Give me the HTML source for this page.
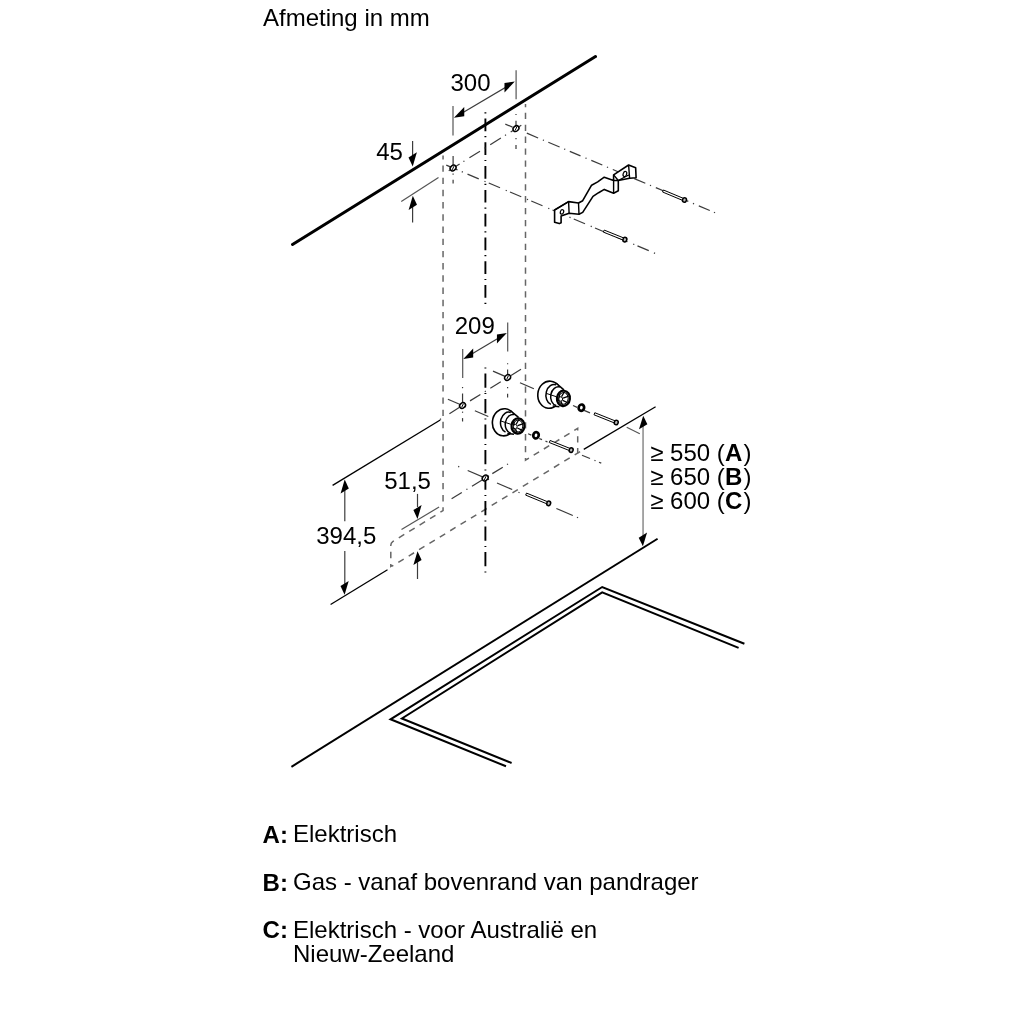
<!DOCTYPE html>
<html><head><meta charset="utf-8"><style>
html,body{margin:0;padding:0;background:#fff;}
svg{display:block;will-change:transform;}
text{font-family:"Liberation Sans",sans-serif;fill:#000;}
</style></head><body>
<svg width="1024" height="1024" viewBox="0 0 1024 1024">
<rect width="1024" height="1024" fill="#fff"/>
<line x1="292.5" y1="244.4" x2="595.5" y2="56.6" stroke="#000" stroke-width="3" stroke-linecap="round"/>
<path d="M443.05,155.6 V510.6 L393,541.4 Q390.8,542.8 390.8,545.3 V566.4 L392.5,565.4" stroke="#666" stroke-width="1.5" fill="none" stroke-linejoin="miter" stroke-linecap="butt" stroke-dasharray="6.4 5.81" stroke-dashoffset="2.38"/>
<path d="M525.5,104 V460.2 L577.7,428.3 V453.3" stroke="#666" stroke-width="1.5" fill="none" stroke-linejoin="miter" stroke-linecap="butt" stroke-dasharray="6.3 5.6" stroke-dashoffset="3.1"/>
<line x1="330.6" y1="604.5" x2="387.5" y2="569.7" stroke="#000" stroke-width="1.3" stroke-linecap="butt"/>
<line x1="392" y1="566.2" x2="583" y2="449.8" stroke="#666" stroke-width="1.5" stroke-linecap="butt" stroke-dasharray="6.3 5.85" stroke-dashoffset="4.75"/>
<line x1="583.75" y1="449.4" x2="655.6" y2="406.75" stroke="#000" stroke-width="1.3" stroke-linecap="butt"/>
<line x1="332.6" y1="485.4" x2="440.25" y2="420" stroke="#000" stroke-width="1.3" stroke-linecap="butt"/>
<line x1="485.4" y1="112.3" x2="485.4" y2="304" stroke="#000" stroke-width="1.9" stroke-linecap="butt" stroke-dasharray="1.2 5 12.7 4.9" stroke-dashoffset="0"/>
<line x1="485.4" y1="367.4" x2="485.4" y2="573.2" stroke="#000" stroke-width="1.9" stroke-linecap="butt" stroke-dasharray="1.2 5 14.2 5.1" stroke-dashoffset="0"/>
<line x1="448.75" y1="170.72" x2="459.6" y2="163.93" stroke="#3a3a3a" stroke-width="1.2" stroke-linecap="butt"/>
<line x1="463.39" y1="161.55" x2="464.41" y2="160.92" stroke="#3a3a3a" stroke-width="1.2" stroke-linecap="butt"/>
<line x1="469.4" y1="157.79" x2="480" y2="151.15" stroke="#3a3a3a" stroke-width="1.2" stroke-linecap="butt"/>
<line x1="484.49" y1="148.34" x2="485.51" y2="147.7" stroke="#3a3a3a" stroke-width="1.2" stroke-linecap="butt"/>
<line x1="490.2" y1="144.76" x2="500.9" y2="138.06" stroke="#3a3a3a" stroke-width="1.2" stroke-linecap="butt"/>
<line x1="504.99" y1="135.5" x2="506.01" y2="134.86" stroke="#3a3a3a" stroke-width="1.2" stroke-linecap="butt"/>
<line x1="510.7" y1="131.92" x2="521.3" y2="125.28" stroke="#3a3a3a" stroke-width="1.2" stroke-linecap="butt"/>
<line x1="505.3" y1="124.08" x2="512.5" y2="127.12" stroke="#3a3a3a" stroke-width="1.2" stroke-linecap="butt"/>
<line x1="526.8" y1="133.16" x2="538.1" y2="137.94" stroke="#3a3a3a" stroke-width="1.2" stroke-linecap="butt"/>
<line x1="542.85" y1="139.94" x2="543.95" y2="140.41" stroke="#3a3a3a" stroke-width="1.2" stroke-linecap="butt"/>
<line x1="548.3" y1="142.25" x2="559.6" y2="147.02" stroke="#3a3a3a" stroke-width="1.2" stroke-linecap="butt"/>
<line x1="564.15" y1="148.94" x2="565.25" y2="149.41" stroke="#3a3a3a" stroke-width="1.2" stroke-linecap="butt"/>
<line x1="569.8" y1="151.33" x2="580.5" y2="155.85" stroke="#3a3a3a" stroke-width="1.2" stroke-linecap="butt"/>
<line x1="585.45" y1="157.94" x2="586.55" y2="158.41" stroke="#3a3a3a" stroke-width="1.2" stroke-linecap="butt"/>
<line x1="591.3" y1="160.41" x2="602.3" y2="165.06" stroke="#3a3a3a" stroke-width="1.2" stroke-linecap="butt"/>
<line x1="606.95" y1="167.03" x2="608.05" y2="167.49" stroke="#3a3a3a" stroke-width="1.2" stroke-linecap="butt"/>
<line x1="612.8" y1="169.5" x2="624" y2="174.23" stroke="#3a3a3a" stroke-width="1.2" stroke-linecap="butt"/>
<line x1="628.45" y1="176.11" x2="629.55" y2="176.58" stroke="#3a3a3a" stroke-width="1.2" stroke-linecap="butt"/>
<line x1="634.3" y1="178.58" x2="645.3" y2="183.23" stroke="#3a3a3a" stroke-width="1.2" stroke-linecap="butt"/>
<line x1="649.95" y1="185.19" x2="651.05" y2="185.66" stroke="#3a3a3a" stroke-width="1.2" stroke-linecap="butt"/>
<line x1="655.8" y1="187.67" x2="666.8" y2="192.31" stroke="#3a3a3a" stroke-width="1.2" stroke-linecap="butt"/>
<line x1="671.45" y1="194.28" x2="672.55" y2="194.74" stroke="#3a3a3a" stroke-width="1.2" stroke-linecap="butt"/>
<line x1="677.3" y1="196.75" x2="688.3" y2="201.4" stroke="#3a3a3a" stroke-width="1.2" stroke-linecap="butt"/>
<line x1="692.95" y1="203.36" x2="694.05" y2="203.83" stroke="#3a3a3a" stroke-width="1.2" stroke-linecap="butt"/>
<line x1="698.8" y1="205.83" x2="709.8" y2="210.48" stroke="#3a3a3a" stroke-width="1.2" stroke-linecap="butt"/>
<line x1="713.95" y1="212.23" x2="715.05" y2="212.7" stroke="#3a3a3a" stroke-width="1.2" stroke-linecap="butt"/>
<line x1="446.25" y1="165.11" x2="457.5" y2="169.86" stroke="#3a3a3a" stroke-width="1.2" stroke-linecap="butt"/>
<line x1="461.75" y1="171.65" x2="462.85" y2="172.12" stroke="#3a3a3a" stroke-width="1.2" stroke-linecap="butt"/>
<line x1="467.5" y1="174.08" x2="478.75" y2="178.84" stroke="#3a3a3a" stroke-width="1.2" stroke-linecap="butt"/>
<line x1="484.45" y1="181.24" x2="485.55" y2="181.71" stroke="#3a3a3a" stroke-width="1.2" stroke-linecap="butt"/>
<line x1="488.75" y1="183.06" x2="500" y2="187.82" stroke="#3a3a3a" stroke-width="1.2" stroke-linecap="butt"/>
<line x1="505.7" y1="190.22" x2="506.8" y2="190.69" stroke="#3a3a3a" stroke-width="1.2" stroke-linecap="butt"/>
<line x1="510" y1="192.04" x2="521.25" y2="196.79" stroke="#3a3a3a" stroke-width="1.2" stroke-linecap="butt"/>
<line x1="526.95" y1="199.2" x2="528.05" y2="199.67" stroke="#3a3a3a" stroke-width="1.2" stroke-linecap="butt"/>
<line x1="531.25" y1="201.02" x2="542.5" y2="205.77" stroke="#3a3a3a" stroke-width="1.2" stroke-linecap="butt"/>
<line x1="548.2" y1="208.18" x2="549.3" y2="208.65" stroke="#3a3a3a" stroke-width="1.2" stroke-linecap="butt"/>
<line x1="552.5" y1="210" x2="563.75" y2="214.75" stroke="#3a3a3a" stroke-width="1.2" stroke-linecap="butt"/>
<line x1="569.45" y1="217.16" x2="570.55" y2="217.62" stroke="#3a3a3a" stroke-width="1.2" stroke-linecap="butt"/>
<line x1="573.75" y1="218.97" x2="585" y2="223.73" stroke="#3a3a3a" stroke-width="1.2" stroke-linecap="butt"/>
<line x1="590.7" y1="226.13" x2="591.8" y2="226.6" stroke="#3a3a3a" stroke-width="1.2" stroke-linecap="butt"/>
<line x1="595" y1="227.95" x2="606.25" y2="232.71" stroke="#3a3a3a" stroke-width="1.2" stroke-linecap="butt"/>
<line x1="611.95" y1="235.11" x2="613.05" y2="235.58" stroke="#3a3a3a" stroke-width="1.2" stroke-linecap="butt"/>
<line x1="616.25" y1="236.93" x2="627.5" y2="241.68" stroke="#3a3a3a" stroke-width="1.2" stroke-linecap="butt"/>
<line x1="633.2" y1="244.09" x2="634.3" y2="244.56" stroke="#3a3a3a" stroke-width="1.2" stroke-linecap="butt"/>
<line x1="637.5" y1="245.91" x2="648.75" y2="250.66" stroke="#3a3a3a" stroke-width="1.2" stroke-linecap="butt"/>
<line x1="653.95" y1="252.86" x2="655.05" y2="253.33" stroke="#3a3a3a" stroke-width="1.2" stroke-linecap="butt"/>
<line x1="439.99" y1="419.49" x2="441.01" y2="418.85" stroke="#3a3a3a" stroke-width="1.2" stroke-linecap="butt"/>
<line x1="449.4" y1="413.65" x2="459.6" y2="407.33" stroke="#3a3a3a" stroke-width="1.2" stroke-linecap="butt"/>
<line x1="470" y1="400.88" x2="480.4" y2="394.43" stroke="#3a3a3a" stroke-width="1.2" stroke-linecap="butt"/>
<line x1="484.79" y1="391.71" x2="485.81" y2="391.08" stroke="#3a3a3a" stroke-width="1.2" stroke-linecap="butt"/>
<line x1="490.3" y1="388.3" x2="500.8" y2="381.79" stroke="#3a3a3a" stroke-width="1.2" stroke-linecap="butt"/>
<line x1="505.29" y1="379" x2="506.31" y2="378.37" stroke="#3a3a3a" stroke-width="1.2" stroke-linecap="butt"/>
<line x1="511" y1="375.46" x2="521" y2="369.26" stroke="#3a3a3a" stroke-width="1.2" stroke-linecap="butt"/>
<line x1="493" y1="371.17" x2="511" y2="378.91" stroke="#3a3a3a" stroke-width="1.2" stroke-linecap="butt"/>
<line x1="520" y1="382.78" x2="533.9" y2="388.76" stroke="#3a3a3a" stroke-width="1.2" stroke-linecap="butt"/>
<line x1="573" y1="405.57" x2="577.1" y2="407.33" stroke="#3a3a3a" stroke-width="1.2" stroke-linecap="butt"/>
<line x1="584.1" y1="410.34" x2="590" y2="412.88" stroke="#3a3a3a" stroke-width="1.2" stroke-linecap="butt"/>
<line x1="447.9" y1="399.2" x2="466" y2="406.98" stroke="#3a3a3a" stroke-width="1.2" stroke-linecap="butt"/>
<line x1="474.9" y1="410.81" x2="488.3" y2="416.57" stroke="#3a3a3a" stroke-width="1.2" stroke-linecap="butt"/>
<line x1="528.1" y1="433.69" x2="531.4" y2="435.11" stroke="#3a3a3a" stroke-width="1.2" stroke-linecap="butt"/>
<line x1="539.2" y1="438.46" x2="542" y2="439.66" stroke="#3a3a3a" stroke-width="1.2" stroke-linecap="butt"/>
<line x1="545.5" y1="441.17" x2="547.5" y2="442.03" stroke="#3a3a3a" stroke-width="1.2" stroke-linecap="butt"/>
<line x1="458.15" y1="466.42" x2="459.25" y2="466.89" stroke="#3a3a3a" stroke-width="1.2" stroke-linecap="butt"/>
<line x1="467.7" y1="470.51" x2="489" y2="479.63" stroke="#3a3a3a" stroke-width="1.2" stroke-linecap="butt"/>
<line x1="497" y1="483.05" x2="512.2" y2="489.56" stroke="#3a3a3a" stroke-width="1.2" stroke-linecap="butt"/>
<line x1="518.45" y1="492.23" x2="519.55" y2="492.7" stroke="#3a3a3a" stroke-width="1.2" stroke-linecap="butt"/>
<line x1="556.4" y1="508.47" x2="572.8" y2="515.49" stroke="#3a3a3a" stroke-width="1.2" stroke-linecap="butt"/>
<line x1="576.95" y1="517.27" x2="578.05" y2="517.74" stroke="#3a3a3a" stroke-width="1.2" stroke-linecap="butt"/>
<line x1="451.6" y1="498.73" x2="461.8" y2="492.44" stroke="#3a3a3a" stroke-width="1.2" stroke-linecap="butt"/>
<line x1="466.39" y1="489.61" x2="467.41" y2="488.98" stroke="#3a3a3a" stroke-width="1.2" stroke-linecap="butt"/>
<line x1="472" y1="486.14" x2="489" y2="475.66" stroke="#3a3a3a" stroke-width="1.2" stroke-linecap="butt"/>
<line x1="492.3" y1="473.62" x2="502.8" y2="467.14" stroke="#3a3a3a" stroke-width="1.2" stroke-linecap="butt"/>
<line x1="506.99" y1="464.56" x2="508.01" y2="463.93" stroke="#3a3a3a" stroke-width="1.2" stroke-linecap="butt"/>
<line x1="582" y1="455.3" x2="590" y2="458.54" stroke="#3a3a3a" stroke-width="1.2" stroke-linecap="butt"/>
<line x1="594.44" y1="460.34" x2="595.56" y2="460.79" stroke="#3a3a3a" stroke-width="1.2" stroke-linecap="butt"/>
<line x1="599" y1="462.19" x2="601.25" y2="463.1" stroke="#3a3a3a" stroke-width="1.2" stroke-linecap="butt"/>
<line x1="453.1" y1="155.9" x2="453.1" y2="168" stroke="#3a3a3a" stroke-width="1.2" stroke-linecap="butt"/>
<line x1="453.1" y1="173.6" x2="453.1" y2="174.8" stroke="#3a3a3a" stroke-width="1.2" stroke-linecap="butt"/>
<line x1="453.1" y1="179.7" x2="453.1" y2="183.6" stroke="#3a3a3a" stroke-width="1.2" stroke-linecap="butt"/>
<line x1="516" y1="113.9" x2="516" y2="115.1" stroke="#3a3a3a" stroke-width="1.2" stroke-linecap="butt"/>
<line x1="516" y1="120.8" x2="516" y2="128" stroke="#3a3a3a" stroke-width="1.2" stroke-linecap="butt"/>
<line x1="516" y1="138" x2="516" y2="139.2" stroke="#3a3a3a" stroke-width="1.2" stroke-linecap="butt"/>
<line x1="516" y1="145" x2="516" y2="148.9" stroke="#3a3a3a" stroke-width="1.2" stroke-linecap="butt"/>
<line x1="507.6" y1="363.15" x2="507.6" y2="364.35" stroke="#3a3a3a" stroke-width="1.2" stroke-linecap="butt"/>
<line x1="507.6" y1="369.4" x2="507.6" y2="377" stroke="#3a3a3a" stroke-width="1.2" stroke-linecap="butt"/>
<line x1="507.6" y1="387" x2="507.6" y2="388.2" stroke="#3a3a3a" stroke-width="1.2" stroke-linecap="butt"/>
<line x1="507.6" y1="393.8" x2="507.6" y2="397.5" stroke="#3a3a3a" stroke-width="1.2" stroke-linecap="butt"/>
<line x1="462.55" y1="387" x2="462.55" y2="388.2" stroke="#3a3a3a" stroke-width="1.2" stroke-linecap="butt"/>
<line x1="462.55" y1="393.5" x2="462.55" y2="405" stroke="#3a3a3a" stroke-width="1.2" stroke-linecap="butt"/>
<line x1="462.55" y1="411.6" x2="462.55" y2="412.8" stroke="#3a3a3a" stroke-width="1.2" stroke-linecap="butt"/>
<line x1="462.55" y1="418.1" x2="462.55" y2="421.5" stroke="#3a3a3a" stroke-width="1.2" stroke-linecap="butt"/>
<ellipse cx="453.1" cy="168" rx="3.2" ry="2.5" transform="rotate(-40 453.1 168)" fill="#fff" stroke="#000" stroke-width="1.5"/>
<line x1="454" y1="166.1" x2="452.2" y2="169.9" stroke="#000" stroke-width="1" stroke-linecap="butt"/>
<ellipse cx="516" cy="128.6" rx="3.2" ry="2.5" transform="rotate(-40 516 128.6)" fill="#fff" stroke="#000" stroke-width="1.5"/>
<line x1="516.9" y1="126.7" x2="515.1" y2="130.5" stroke="#000" stroke-width="1" stroke-linecap="butt"/>
<ellipse cx="507.6" cy="377.45" rx="3.2" ry="2.5" transform="rotate(-40 507.6 377.45)" fill="#fff" stroke="#000" stroke-width="1.5"/>
<line x1="508.5" y1="375.55" x2="506.7" y2="379.35" stroke="#000" stroke-width="1" stroke-linecap="butt"/>
<ellipse cx="462.55" cy="405.5" rx="3.2" ry="2.5" transform="rotate(-40 462.55 405.5)" fill="#fff" stroke="#000" stroke-width="1.5"/>
<line x1="463.45" y1="403.6" x2="461.65" y2="407.4" stroke="#000" stroke-width="1" stroke-linecap="butt"/>
<ellipse cx="485.2" cy="478" rx="3.2" ry="2.5" transform="rotate(-40 485.2 478)" fill="#fff" stroke="#000" stroke-width="1.5"/>
<line x1="486.1" y1="476.1" x2="484.3" y2="479.9" stroke="#000" stroke-width="1" stroke-linecap="butt"/>
<line x1="516.1" y1="70.3" x2="516.1" y2="99.3" stroke="#555" stroke-width="1.2" stroke-linecap="butt"/>
<line x1="453" y1="106" x2="453" y2="135.5" stroke="#555" stroke-width="1.2" stroke-linecap="butt"/>
<line x1="458" y1="115.4" x2="511" y2="84.2" stroke="#3c3c3c" stroke-width="1.2" stroke-linecap="butt"/>
<path d="M453.9,117.7 L464.23,116.3 L464.23,106.9 Z" fill="#000"/>
<path d="M514.8,81.6 L504.48,92.42 L504.48,83.02 Z" fill="#000"/>
<text x="450.5" y="91.2" font-size="24" font-weight="normal" text-anchor="start">300</text>
<text x="376.2" y="159.6" font-size="24" font-weight="normal" text-anchor="start">45</text>
<line x1="412.6" y1="141" x2="412.6" y2="156" stroke="#3c3c3c" stroke-width="1.2" stroke-linecap="butt"/>
<path d="M412.7,166.4 L416.88,152.35 L408.52,157.45 Z" fill="#000"/>
<line x1="412.6" y1="207" x2="412.6" y2="222.5" stroke="#3c3c3c" stroke-width="1.2" stroke-linecap="butt"/>
<path d="M412.8,195.8 L416.98,204.85 L408.62,209.95 Z" fill="#000"/>
<line x1="401.25" y1="201.5" x2="438.5" y2="177.5" stroke="#555" stroke-width="1.2" stroke-linecap="butt"/>
<line x1="507.7" y1="322.5" x2="507.7" y2="351.5" stroke="#555" stroke-width="1.2" stroke-linecap="butt"/>
<line x1="462.7" y1="348.9" x2="462.7" y2="377.9" stroke="#555" stroke-width="1.2" stroke-linecap="butt"/>
<line x1="468" y1="356.2" x2="502" y2="336" stroke="#3c3c3c" stroke-width="1.2" stroke-linecap="butt"/>
<path d="M463.3,359 L473.18,357.62 L473.18,348.62 Z" fill="#000"/>
<path d="M506.8,333.1 L496.92,343.48 L496.92,334.48 Z" fill="#000"/>
<text x="454.7" y="333.5" font-size="24" font-weight="normal" text-anchor="start">209</text>
<text x="384.2" y="489.2" font-size="24" font-weight="normal" text-anchor="start">51,5</text>
<line x1="417.5" y1="493.9" x2="417.5" y2="507" stroke="#3c3c3c" stroke-width="1.2" stroke-linecap="butt"/>
<path d="M417.5,518.9 L421.6,505.1 L413.4,510.1 Z" fill="#000"/>
<line x1="401.5" y1="529.6" x2="439.1" y2="507" stroke="#555" stroke-width="1.2" stroke-linecap="butt"/>
<path d="M417.5,551.2 L421.6,560 L413.4,565 Z" fill="#000"/>
<line x1="417.5" y1="562" x2="417.5" y2="579" stroke="#3c3c3c" stroke-width="1.2" stroke-linecap="butt"/>
<line x1="344.8" y1="490" x2="344.8" y2="521.25" stroke="#3c3c3c" stroke-width="1.2" stroke-linecap="butt"/>
<path d="M344.7,479.6 L348.8,488.4 L340.6,493.4 Z" fill="#000"/>
<text x="316.2" y="544.4" font-size="24" font-weight="normal" text-anchor="start">394,5</text>
<line x1="344.8" y1="551" x2="344.8" y2="585" stroke="#3c3c3c" stroke-width="1.2" stroke-linecap="butt"/>
<path d="M344.6,594.7 L348.7,580.9 L340.5,585.9 Z" fill="#000"/>
<line x1="643.05" y1="424" x2="643.05" y2="537" stroke="#8a8a8a" stroke-width="1.5" stroke-linecap="butt"/>
<path d="M643.2,415.8 L647.38,424.25 L639.02,429.35 Z" fill="#000"/>
<path d="M642.9,546.2 L647.08,532.55 L638.72,537.65 Z" fill="#000"/>
<line x1="626.7" y1="427.2" x2="639.8" y2="433.75" stroke="#555" stroke-width="1.2" stroke-linecap="butt"/>
<text x="650.2" y="461" font-size="24">&#8805; 550 (<tspan font-weight="bold" dx="0.3">A</tspan><tspan dx="1.0">)</tspan></text>
<text x="650.2" y="485.3" font-size="24">&#8805; 650 (<tspan font-weight="bold" dx="0.3">B</tspan><tspan dx="1.0">)</tspan></text>
<text x="650.2" y="508.75" font-size="24">&#8805; 600 (<tspan font-weight="bold" dx="0.3">C</tspan><tspan dx="1.0">)</tspan></text>
<line x1="291.4" y1="766.8" x2="657.6" y2="538.75" stroke="#000" stroke-width="2" stroke-linecap="butt"/>
<path d="M506,766.3 L390.5,719.3 L602.2,587 L744.4,643.7" stroke="#000" stroke-width="2" fill="none" stroke-linejoin="miter" stroke-linecap="butt"/>
<path d="M511.6,763 L401.9,718.5 L602.2,592.3 L738.6,647.9" stroke="#000" stroke-width="2" fill="none" stroke-linejoin="miter" stroke-linecap="butt"/>
<path d="M593.99,414.77 L615.84,423.52 L616.66,421.48 L594.81,412.73 Z" stroke="#000" stroke-width="1" fill="#fff" stroke-linejoin="miter" stroke-linecap="butt"/>
<ellipse cx="616.25" cy="422.5" rx="1.9" ry="2.3" transform="rotate(20 616.25 422.5)" fill="#bbb" stroke="#000" stroke-width="1.5"/>
<path d="M549.29,442.52 L570.79,451.12 L571.61,449.08 L550.11,440.48 Z" stroke="#000" stroke-width="1" fill="#fff" stroke-linejoin="miter" stroke-linecap="butt"/>
<ellipse cx="571.2" cy="450.1" rx="1.9" ry="2.3" transform="rotate(20 571.2 450.1)" fill="#bbb" stroke="#000" stroke-width="1.5"/>
<path d="M525.68,495.12 L548.28,504.42 L549.12,502.38 L526.52,493.08 Z" stroke="#000" stroke-width="1" fill="#fff" stroke-linejoin="miter" stroke-linecap="butt"/>
<ellipse cx="548.7" cy="503.4" rx="1.9" ry="2.3" transform="rotate(20 548.7 503.4)" fill="#bbb" stroke="#000" stroke-width="1.5"/>
<path d="M662.58,192.01 L684.08,201.01 L684.92,198.99 L663.42,189.99 Z" stroke="#000" stroke-width="1" fill="#fff" stroke-linejoin="miter" stroke-linecap="butt"/>
<ellipse cx="684.5" cy="200" rx="1.9" ry="2.3" transform="rotate(20 684.5 200)" fill="#bbb" stroke="#000" stroke-width="1.5"/>
<path d="M603.39,232.12 L624.49,240.62 L625.31,238.58 L604.21,230.08 Z" stroke="#000" stroke-width="1" fill="#fff" stroke-linejoin="miter" stroke-linecap="butt"/>
<ellipse cx="624.9" cy="239.6" rx="1.9" ry="2.3" transform="rotate(20 624.9 239.6)" fill="#bbb" stroke="#000" stroke-width="1.5"/>
<g transform="translate(0 0)">
<ellipse cx="504" cy="422.3" rx="11.6" ry="13.6" transform="rotate(6 504 422.3)" fill="#fff" stroke="#000" stroke-width="1.6"/>
<path d="M510.8,411 L518.5,417.2 L518,434.6 L507.3,433.3 Z" stroke="#000" stroke-width="0" fill="#fff" stroke-linejoin="miter" stroke-linecap="butt"/>
<path d="M510.6,410.8 L518.5,417.4" stroke="#000" stroke-width="1.5" fill="none" stroke-linejoin="miter" stroke-linecap="butt"/>
<path d="M507.3,433.5 L514,434.3" stroke="#000" stroke-width="1.5" fill="none" stroke-linejoin="miter" stroke-linecap="butt"/>
<path d="M510.8,412.5 A7.6 10.2 6 0 0 505.5,432" fill="none" stroke="#000" stroke-width="1.5"/>
<path d="M514.5,414.6 A7.3 9.4 6 0 0 510.8,433.2" fill="none" stroke="#000" stroke-width="1.5"/>
<path d="M500.9,421 L510.9,424.3" stroke="#000" stroke-width="1" fill="none" stroke-linejoin="miter" stroke-linecap="butt"/>
<ellipse cx="518" cy="426" rx="6.5" ry="7.7" transform="rotate(6 518 426)" fill="#fff" stroke="#000" stroke-width="2.2"/>
<ellipse cx="518" cy="426" rx="4.8" ry="5.9" transform="rotate(6 518 426)" fill="none" stroke="#000" stroke-width="1"/>
<line x1="517.68" y1="425.71" x2="523.26" y2="423.67" stroke="#000" stroke-width="1.3" stroke-linecap="butt"/>
<line x1="517.33" y1="427.98" x2="522.29" y2="430.37" stroke="#000" stroke-width="1.3" stroke-linecap="butt"/>
<line x1="515.45" y1="428.77" x2="517.03" y2="432.7" stroke="#000" stroke-width="1.3" stroke-linecap="butt"/>
<line x1="513.92" y1="427.29" x2="512.74" y2="428.33" stroke="#000" stroke-width="1.3" stroke-linecap="butt"/>
<line x1="514.27" y1="425.02" x2="513.71" y2="421.63" stroke="#000" stroke-width="1.3" stroke-linecap="butt"/>
<line x1="516.15" y1="424.23" x2="518.97" y2="419.3" stroke="#000" stroke-width="1.3" stroke-linecap="butt"/>
<ellipse cx="515.3" cy="426.6" rx="1.9" ry="2.2" fill="#fff" stroke="#000" stroke-width="1"/>
</g>
<ellipse cx="536" cy="435.3" rx="2.7" ry="3.2" transform="rotate(15 536 435.3)" fill="#fff" stroke="#000" stroke-width="2.7"/>
<g transform="translate(45.4 -27.6)">
<ellipse cx="504" cy="422.3" rx="11.6" ry="13.6" transform="rotate(6 504 422.3)" fill="#fff" stroke="#000" stroke-width="1.6"/>
<path d="M510.8,411 L518.5,417.2 L518,434.6 L507.3,433.3 Z" stroke="#000" stroke-width="0" fill="#fff" stroke-linejoin="miter" stroke-linecap="butt"/>
<path d="M510.6,410.8 L518.5,417.4" stroke="#000" stroke-width="1.5" fill="none" stroke-linejoin="miter" stroke-linecap="butt"/>
<path d="M507.3,433.5 L514,434.3" stroke="#000" stroke-width="1.5" fill="none" stroke-linejoin="miter" stroke-linecap="butt"/>
<path d="M510.8,412.5 A7.6 10.2 6 0 0 505.5,432" fill="none" stroke="#000" stroke-width="1.5"/>
<path d="M514.5,414.6 A7.3 9.4 6 0 0 510.8,433.2" fill="none" stroke="#000" stroke-width="1.5"/>
<path d="M500.9,421 L510.9,424.3" stroke="#000" stroke-width="1" fill="none" stroke-linejoin="miter" stroke-linecap="butt"/>
<ellipse cx="518" cy="426" rx="6.5" ry="7.7" transform="rotate(6 518 426)" fill="#fff" stroke="#000" stroke-width="2.2"/>
<ellipse cx="518" cy="426" rx="4.8" ry="5.9" transform="rotate(6 518 426)" fill="none" stroke="#000" stroke-width="1"/>
<line x1="517.68" y1="425.71" x2="523.26" y2="423.67" stroke="#000" stroke-width="1.3" stroke-linecap="butt"/>
<line x1="517.33" y1="427.98" x2="522.29" y2="430.37" stroke="#000" stroke-width="1.3" stroke-linecap="butt"/>
<line x1="515.45" y1="428.77" x2="517.03" y2="432.7" stroke="#000" stroke-width="1.3" stroke-linecap="butt"/>
<line x1="513.92" y1="427.29" x2="512.74" y2="428.33" stroke="#000" stroke-width="1.3" stroke-linecap="butt"/>
<line x1="514.27" y1="425.02" x2="513.71" y2="421.63" stroke="#000" stroke-width="1.3" stroke-linecap="butt"/>
<line x1="516.15" y1="424.23" x2="518.97" y2="419.3" stroke="#000" stroke-width="1.3" stroke-linecap="butt"/>
<ellipse cx="515.3" cy="426.6" rx="1.9" ry="2.2" fill="#fff" stroke="#000" stroke-width="1"/>
</g>
<ellipse cx="581.4" cy="407.7" rx="2.7" ry="3.2" transform="rotate(15 581.4 407.7)" fill="#fff" stroke="#000" stroke-width="2.7"/>
<path d="M554.6,210 L554.6,222.2 L559.25,223.6 L561.1,222.7 L561.1,216.1 L569.1,213.3 L579,214.25 L582.7,212.4 L593,196.4 L598.6,192.7 L604.25,189.4 L613.6,193.2 L618.3,190.8 L618.3,180.5 L629.6,178.2 L636.1,177.7 L635.65,167.8 L628.6,165 L613.6,174.9 L613.6,180.5 L604.25,177.2 L597.7,181.9 L591.6,185.2 L582.7,200.7 L578.5,203 L568.6,201.6 Z" stroke="#000" stroke-width="1.6" fill="#fff" stroke-linejoin="round" stroke-linecap="butt"/>
<path d="M613.6,180.5 L613.6,193.2 M554.6,210 L568.6,201.6 M568.6,201.6 L569.1,213.3 M578.5,203 L579,214.25 M613.6,180.5 L618.3,180.5 M613.6,174.9 L618.3,180.5 M618.3,180.5 L628.6,175 M628.6,165 L629.6,178.2" stroke="#000" stroke-width="1.4" fill="none" stroke-linejoin="miter" stroke-linecap="butt"/>
<ellipse cx="562" cy="211.9" rx="1.6" ry="2.3" transform="rotate(20 562 211.9)" fill="none" stroke="#000" stroke-width="1.2"/>
<ellipse cx="624.9" cy="174" rx="1.7" ry="2.6" transform="rotate(20 624.9 174)" fill="none" stroke="#000" stroke-width="1.2"/>
<text x="263" y="25.7" font-size="24" font-weight="normal" text-anchor="start">Afmeting in mm</text>
<text x="262.6" y="842.6" font-size="24" font-weight="bold" text-anchor="start">A:</text>
<text x="293" y="842.2" font-size="24" font-weight="normal" text-anchor="start">Elektrisch</text>
<text x="262.6" y="890.8" font-size="24" font-weight="bold" text-anchor="start">B:</text>
<text x="293" y="890.4" font-size="24" font-weight="normal" text-anchor="start">Gas - vanaf bovenrand van pandrager</text>
<text x="262.6" y="938.3" font-size="24" font-weight="bold" text-anchor="start">C:</text>
<text x="293" y="937.9" font-size="24" font-weight="normal" text-anchor="start">Elektrisch - voor Australi&#235; en</text>
<text x="293" y="962.2" font-size="24" font-weight="normal" text-anchor="start">Nieuw-Zeeland</text>
</svg></body></html>
